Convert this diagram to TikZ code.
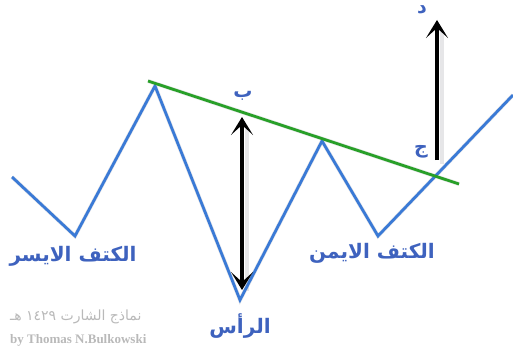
\documentclass[tikz,border=0pt]{standalone}
\usepackage{fontspec}
\setmainfont{Liberation Serif}
\newfontfamily\arabicfont[Script=Arabic]{DejaVu Sans}
\TeXXeTstate=1
\usetikzlibrary{arrows.meta}
\definecolor{zigblue}{RGB}{58,122,214}
\definecolor{neckgreen}{RGB}{40,160,40}
\definecolor{labblue}{RGB}{62,98,190}
\definecolor{shadowgray}{RGB}{205,205,210}
\definecolor{wmgray}{RGB}{185,185,185}
\tikzset{
  zig/.style={draw=zigblue, line width=2.8pt, line join=miter},
  zigshadow/.style={draw=shadowgray, line width=4pt, opacity=0.5},
  neck/.style={draw=neckgreen, line width=2.8pt},
  measure/.style={draw=black, line width=3.4pt, -{Stealth[length=18pt,width=22pt,inset=10pt]}},
  measureboth/.style={draw=black, line width=3.4pt, {Stealth[length=18pt,width=22pt,inset=10pt]}-{Stealth[length=18pt,width=22pt,inset=10pt]}},
  measureshadow/.style={draw=shadowgray, line width=4pt, opacity=0.5},
  lab/.style={font=\arabicfont\bfseries\fontsize{20}{20}\selectfont, text=labblue, inner sep=0pt},
  letter/.style={font=\arabicfont\bfseries\fontsize{19}{19}\selectfont, text=labblue, inner sep=0pt},
  wm/.style={text=wmgray, inner sep=0pt, anchor=west}
}
\begin{document}
\begin{tikzpicture}[x=1pt,y=-1pt]
\useasboundingbox (0,0) rectangle (513,358);
% pattern points
\coordinate (p0) at (12,177);
\coordinate (ls) at (75,236);
\coordinate (h1) at (155,86);
\coordinate (hd) at (240,300);
\coordinate (h2) at (322,141);
\coordinate (rs) at (378,236);
\coordinate (p6) at (513,95);
\coordinate (n1) at (148,81);
\coordinate (n2) at (459,184);
% shadows
\begin{scope}[shift={(5,6)}]
\draw[zigshadow] (p0) -- (ls) -- (h1) -- (hd) -- (h2) -- (rs) -- (p6);
\draw[zigshadow] (n1) -- (n2);
\draw[measureshadow] (242,122) -- (242,285);
\draw[measureshadow] (437,24) -- (437,158);
\end{scope}
% zigzag
\draw[zig] (p0) -- (ls) -- (h1) -- (hd) -- (h2) -- (rs) -- (p6);
% neckline
\draw[neck] (n1) -- (n2);
% measurement arrows
\coordinate (ab) at (242,117);
\coordinate (ae) at (242,290);
\draw[measureboth] (ab) -- (ae);
\coordinate (cb) at (437,160);
\coordinate (ce) at (437,20);
\draw[measure] (cb) -- (ce);
% labels
\node[lab] (lsl) at (73,256) {\beginR الكتف الايسر\endR};
\node[lab] (hdl) at (240,326) {\beginR الرأس\endR};
\node[lab] (rsl) at (372,253) {\beginR الكتف الايمن\endR};
\node[letter] (lb) at (243,96) {\beginR ب\endR};
\node[letter] (lj) at (421,152) {\beginR ج\endR};
\node[letter] (ld) at (422,10) {\beginR د\endR};
% watermark
\node[wm, font=\arabicfont\fontsize{14}{14}\selectfont] (wm1) at (10,317) {\beginR نماذج الشارت \beginL ١٤٢٩\endL{} هـ\endR};
\node[wm, font=\bfseries\fontsize{13}{13}\selectfont] (wm2) at (10,340) {by Thomas N.Bulkowski};
\end{tikzpicture}
\end{document}
